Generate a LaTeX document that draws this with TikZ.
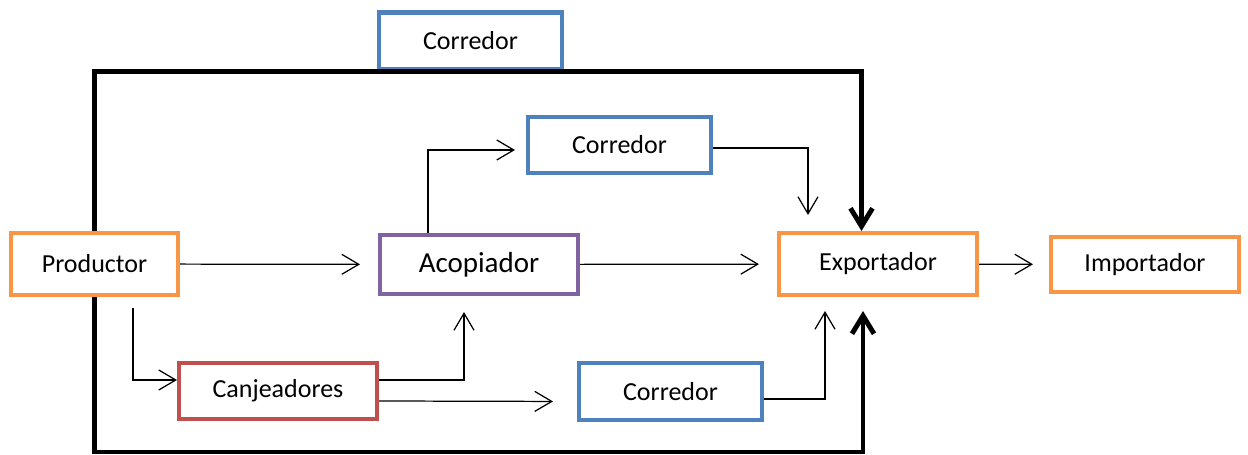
\documentclass[tikz,border=0pt]{standalone}
\usepackage{fontspec}
\setmainfont{Carlito}
\usetikzlibrary{arrows.meta}
\definecolor{boxorange}{RGB}{247,150,70}
\definecolor{boxblue}{RGB}{79,129,189}
\definecolor{boxpurple}{RGB}{128,100,162}
\definecolor{boxred}{RGB}{192,80,77}
\tikzset{
  box/.style={draw,rectangle,fill=white,line width=2.3pt,minimum width=3.66cm,minimum height=1.14cm,font=\fontsize{14.8}{18}\selectfont},
  flow/.style={line width=0.7pt,-{Straight Barb[length=0.34cm,width=0.4cm]}},
  frame/.style={line width=2.8pt,-{Straight Barb[length=0.36cm,width=0.44cm]}}
}

\begin{document}
\begin{tikzpicture}
\useasboundingbox (0,0) rectangle (24.96,-9.10);

% Bottom line of the frame
\coordinate (base) at (9,-9.04);

% Boxes
\node[box,draw=boxblue] (cortop) at (9.41,-0.82) {Corredor};
\node[box,draw=boxblue,minimum height=1.12cm] (cormid) at (12.39,-2.90) {Corredor};
\node[box,draw=boxorange,minimum width=3.34cm,minimum height=1.24cm] (prod) at (1.89,-5.28) {Productor};
\node[box,draw=boxpurple,minimum width=3.96cm,minimum height=1.18cm,font=\fontsize{16.5}{20}\selectfont] (acop) at (9.58,-5.29) {Acopiador};
\node[box,draw=boxorange,minimum width=3.96cm,minimum height=1.24cm] (exp) at (17.56,-5.28) {Exportador};
\node[box,draw=boxorange,minimum width=3.76cm,minimum height=1.10cm] (imp) at (22.90,-5.29) {Importador};
\node[box,draw=boxred,minimum width=3.96cm,minimum height=1.12cm] (canj) at (5.56,-7.82) {Canjeadores};
\node[box,draw=boxblue] (corbot) at (13.41,-7.83) {Corredor};

% Thick frame
\draw[frame] (prod.north) |- (cortop.south) -| ([xshift=-0.33cm]exp.north);
\draw[frame,shorten >=0.28cm] (prod.south) |- (base) -| ([xshift=-0.30cm]exp.south);

% Connection lines
\draw[flow,shorten >=0.36cm] (prod) -- (acop);
\draw[flow,shorten >=0.22cm] ([xshift=-1.02cm]acop.north) |- ([yshift=-0.1cm]cormid.west);
\draw[flow,shorten >=0.32cm] ([yshift=-0.06cm]cormid.east) -| ([xshift=-1.40cm]exp.north);
\draw[flow,shorten >=0.36cm] (acop) -- (exp);
\draw[flow,shorten >=0.32cm] (exp) -- (imp);
\draw[flow] ([xshift=0.77cm,yshift=-0.22cm]prod.south) |- ([yshift=0.22cm]canj.west);
\draw[flow,shorten >=0.32cm] ([yshift=0.22cm]canj.east) -| ([xshift=-0.30cm]acop.south);
\draw[flow,shorten >=0.48cm] ([yshift=-0.2cm]canj.east) -- ([yshift=-0.2cm]corbot.west);
\draw[flow,shorten >=0.28cm] ([yshift=-0.15cm]corbot.east) -| ([xshift=-1.06cm]exp.south);
\end{tikzpicture}
\end{document}
